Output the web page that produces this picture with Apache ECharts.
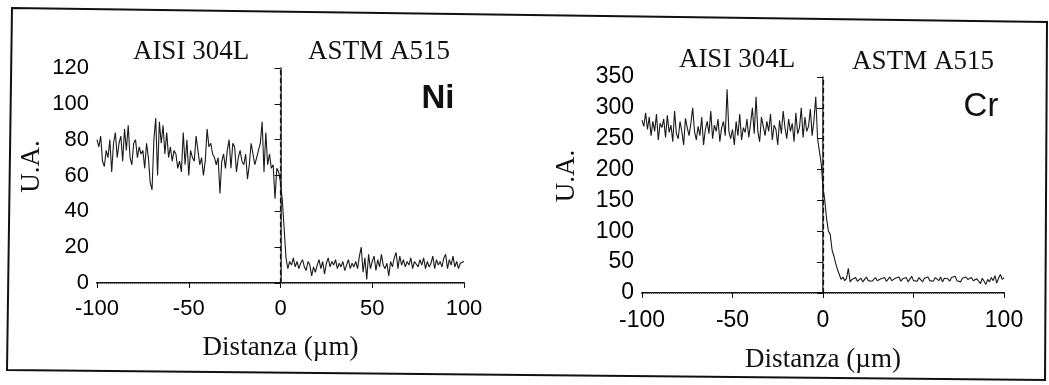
<!DOCTYPE html>
<html>
<head>
<meta charset="utf-8">
<script src="https://cdn.jsdelivr.net/npm/echarts@6/dist/echarts.min.js"></script>
<style>
html,body{margin:0;padding:0;background:#fff;}
#chart{width:1049px;height:385px;}
</style>
</head>
<body>
<div id="chart"></div>
<script>
// Sampling grid (µm), step 1 from -100 to 100
const distStart = -100, distStep = 1, distCount = 201;
const distances = [];
for (let i = 0; i < distCount; i++) distances.push(distStart + i * distStep);

// Ni profile (U.A.), x = -100 .. 100
const niValues = [
  80,76,82,68,65,74,70,80,62,78,
  84,70,78,82,68,86,74,88,70,66,
  78,80,70,76,72,74,64,78,70,56,
  52,80,92,60,90,78,88,72,84,70,
  76,68,74,72,64,68,62,84,66,80,
  60,74,70,68,82,74,66,70,60,68,
  86,76,78,72,70,66,70,50,68,72,
  64,74,80,64,78,76,62,70,74,68,
  66,72,58,66,78,72,66,70,74,78,
  90,62,84,66,72,64,66,47,64,62,
  56,46,30,14,8,12,10,14,9,12,
  8,11,13,9,7,12,10,4,9,6,
  10,13,8,12,5,11,14,9,12,10,
  13,8,11,9,12,7,10,13,8,11,
  9,12,8,15,20,6,14,2,16,8,
  12,15,7,13,9,16,10,8,11,4,
  12,9,14,17,8,15,10,13,9,12,
  10,14,8,12,11,9,13,10,14,8,
  12,9,11,15,8,13,10,12,9,14,
  16,8,13,10,15,9,12,8,11,10,
  12
];

// Cr profile (U.A.), x = -100 .. 100
const crValues = [
  280,270,292,265,285,255,278,262,290,248,
  275,268,282,252,288,260,272,245,295,258,
  250,278,262,240,283,268,255,275,300,262,
  248,270,255,285,240,265,278,258,295,250,
  272,262,282,245,268,278,255,330,262,250,
  265,240,278,255,290,248,268,260,282,252,
  275,300,258,318,262,245,285,270,255,278,
  262,290,248,272,265,240,280,258,295,268,
  250,282,262,275,245,292,258,268,300,252,
  285,262,270,298,255,280,318,250,230,210,
  170,150,120,100,95,70,60,48,38,30,
  22,26,20,24,40,18,22,20,25,19,
  21,24,18,22,26,20,23,19,22,25,
  20,17,23,21,25,19,22,26,20,18,
  24,21,26,19,23,22,25,18,21,27,
  20,23,19,25,22,18,24,21,26,20,
  23,19,25,22,20,26,18,24,21,23,
  19,25,22,27,20,23,18,24,21,26,
  22,19,25,20,17,23,21,15,24,19,
  14,22,18,25,20,28,16,24,30,22,
  25
];

const xTicks = { min: -100, max: 100, interval: 50 };
const niAxis = { min: 0, max: 120, interval: 20 };
const crAxis = { min: 0, max: 350, interval: 50 };
const interfacePos = 0;

const sans = '"Liberation Sans", Arial, sans-serif';
const serif = '"Liberation Serif", "Times New Roman", serif';

function pairs(vals) { return distances.map((d, i) => [d, vals[i]]); }

function mainX(grid, gap, lblMargin, fs) {
  return {
    gridIndex: grid, type: 'value', min: xTicks.min, max: xTicks.max, interval: xTicks.interval,
    position: 'bottom',
    axisLine: { show: true, lineStyle: { color: '#111', width: 2 } },
    axisTick: { show: true, length: 5, lineStyle: { color: '#111', width: 1 } },
    axisLabel: { margin: lblMargin, color: '#000', fontFamily: sans, fontSize: fs },
    splitLine: { show: false },
    name: 'Distanza (µm)', nameLocation: 'middle', nameGap: gap,
    nameTextStyle: { fontFamily: serif, fontSize: 27, color: '#111' }
  };
}
function topX(grid) {
  return {
    gridIndex: grid, type: 'value', min: xTicks.min, max: xTicks.max, position: 'top',
    axisLine: { show: true, lineStyle: { color: '#999', width: 1, type: 'dotted' } },
    axisTick: { show: false }, axisLabel: { show: false }, splitLine: { show: false }
  };
}
function mainY(grid, ax, gap, fs) {
  return {
    gridIndex: grid, type: 'value', min: ax.min, max: ax.max, interval: ax.interval,
    position: 'left',
    axisLine: { show: true, lineStyle: { color: '#111', width: 1.5 } },
    axisTick: { show: true, length: 6, lineStyle: { color: '#111', width: 1 } },
    axisLabel: { margin: 8, color: '#000', fontFamily: sans, fontSize: fs },
    splitLine: { show: false },
    name: 'U.A.', nameLocation: 'middle', nameGap: gap, nameRotate: 90,
    nameTextStyle: { fontFamily: serif, fontSize: 27, color: '#111', padding: [0, 0, 0, 18] }
  };
}
function rightY(grid, ax) {
  return {
    gridIndex: grid, type: 'value', min: ax.min, max: ax.max, position: 'right',
    axisLine: { show: true, lineStyle: { color: '#999', width: 1, type: 'dotted' } },
    axisTick: { show: false }, axisLabel: { show: false }, splitLine: { show: false }
  };
}
function lineSeries(vals, xi, yi) {
  return {
    type: 'line', xAxisIndex: xi, yAxisIndex: yi, data: pairs(vals),
    showSymbol: false, symbol: 'none', smooth: false,
    lineStyle: { color: '#1a1a1a', width: 1.1 },
    markLine: {
      silent: true, symbol: ['none', 'none'], label: { show: false },
      lineStyle: { color: '#111', type: [5, 3], width: 1.2 },
      data: [{ xAxis: interfacePos }]
    }
  };
}
function txt(x, y, text, font) {
  return { type: 'text', x: x, y: y, style: { text: text, font: font, fill: '#111', textAlign: 'center', textVerticalAlign: 'middle' } };
}

const chart = echarts.init(document.getElementById('chart'), null, { renderer: 'canvas' });
chart.setOption({
  animation: false,
  backgroundColor: '#fff',
  grid: [
    { left: 97, right: 1049 - 464, top: 68, bottom: 385 - 283, containLabel: false },
    { left: 642, right: 1049 - 1004, top: 77, bottom: 385 - 293, containLabel: false }
  ],
  xAxis: [ mainX(0, 51, 15, 22), topX(0), mainX(1, 53, 16, 23), topX(1) ],
  yAxis: [ mainY(0, niAxis, 52, 22), rightY(0, niAxis), mainY(1, crAxis, 62, 23), rightY(1, crAxis) ],
  series: [ lineSeries(niValues, 0, 0), lineSeries(crValues, 2, 2) ],
  graphic: [
    { type: 'polygon', shape: { points: [[12, 8], [1047, 22], [1045, 380], [7, 370]] },
      style: { fill: 'none', stroke: '#111', lineWidth: 2 } },
    txt(191, 52, 'AISI 304L', '27px ' + serif),
    txt(379, 52, 'ASTM A515', '27px ' + serif),
    txt(737, 60, 'AISI 304L', '27px ' + serif),
    txt(923, 62, 'ASTM A515', '27px ' + serif),
    txt(438, 99, 'Ni', 'bold 33px ' + sans),
    txt(981, 107, 'Cr', '33px ' + sans)
  ]
});
</script>
</body>
</html>
